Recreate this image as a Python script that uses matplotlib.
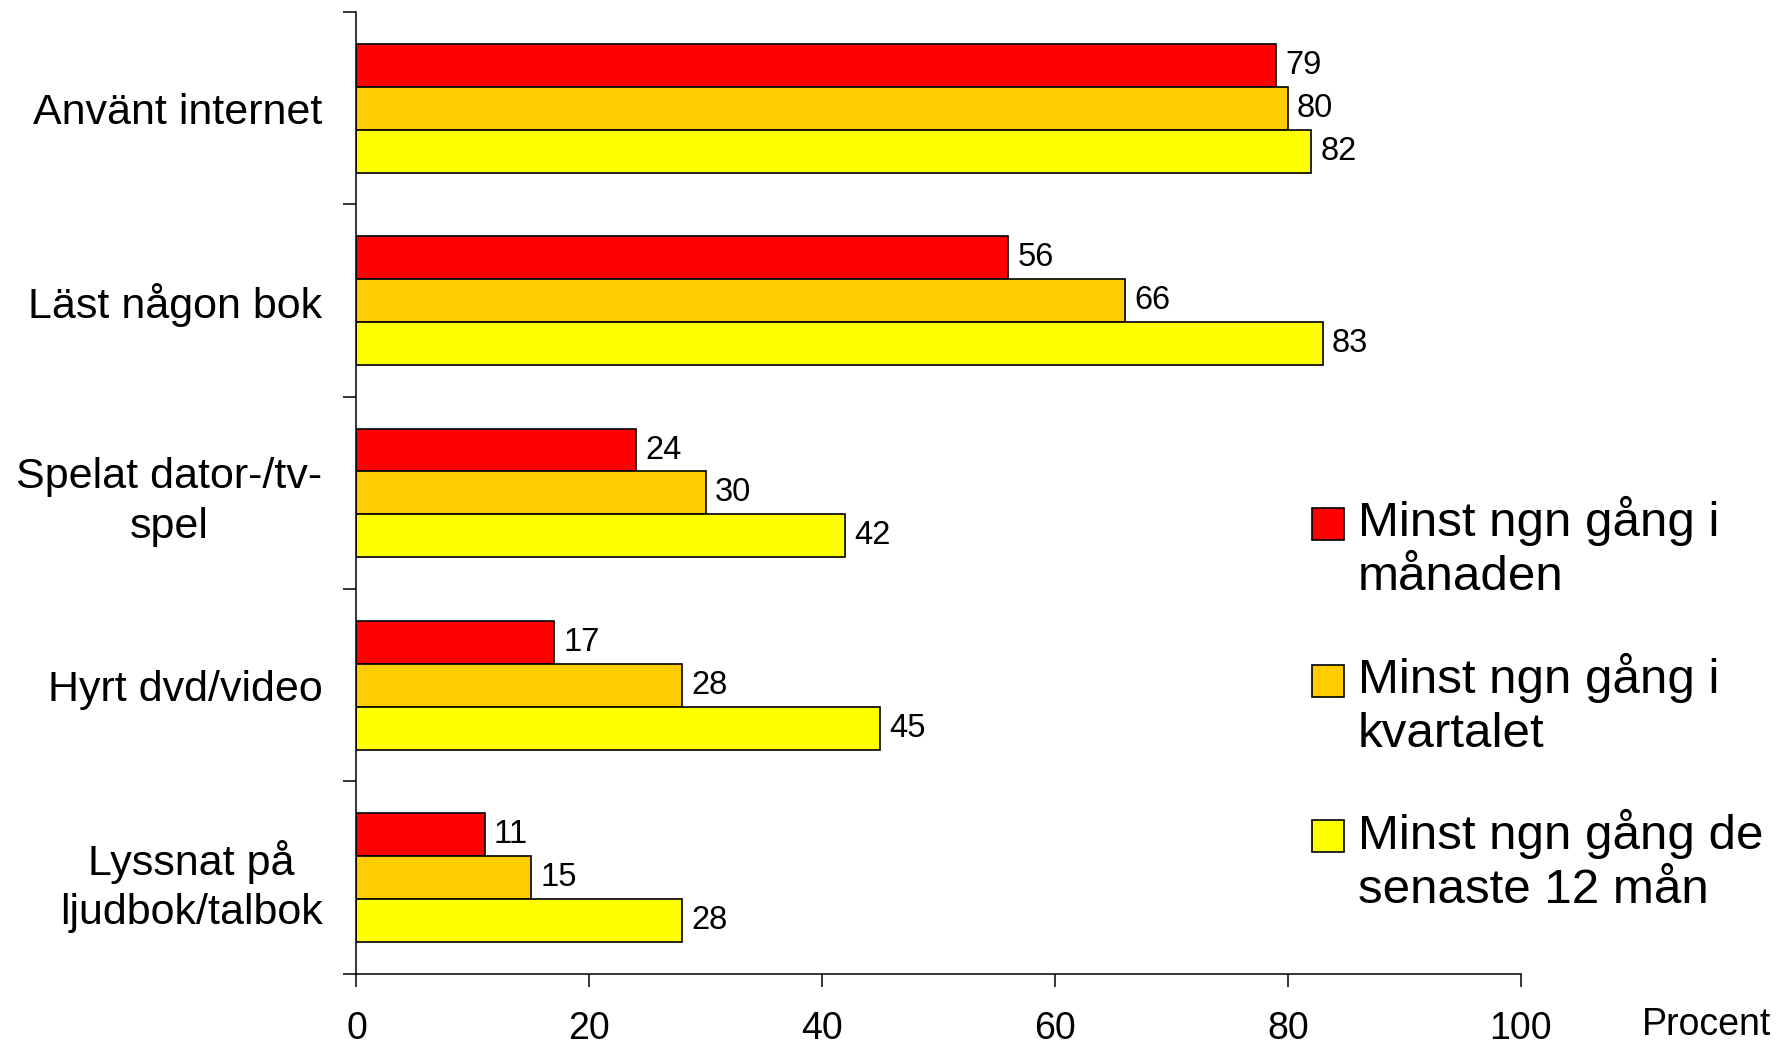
import numpy as np
import matplotlib.pyplot as plt
from matplotlib.patches import Rectangle

plt.rcParams['font.family'] = ['Liberation Sans', 'DejaVu Sans']

# data
categories = ['Använt internet', 'Läst någon bok', 'Spelat dator-/tv-\nspel',
              'Hyrt dvd/video', 'Lyssnat på\nljudbok/talbok']
series_names = ['Minst ngn gång i\nmånaden', 'Minst ngn gång i\nkvartalet',
                'Minst ngn gång de\nsenaste 12 mån']
manad = [79, 56, 24, 17, 11]
kvartal = [80, 66, 30, 28, 15]
ar = [82, 83, 42, 45, 28]
colors = ['#FF0000', '#FFCC00', '#FFFF00']
xticks = [0, 20, 40, 60, 80, 100]

fig = plt.figure(figsize=(17.86, 10.46), dpi=100)
ax = fig.add_axes([0.1996, 0.069, 0.6519, 0.9195])

y = np.arange(len(categories))
h = 0.223
for k, vals in enumerate([manad, kvartal, ar]):
    pos = y + (k - 1) * h
    bars = ax.barh(pos, vals, height=h, color=colors[k], edgecolor='black', linewidth=1.2)
    for b, v in zip(bars, vals):
        ax.annotate(str(v), (v, b.get_y() + h / 2), xytext=(6.5, 0),
                    textcoords='offset points', ha='left', va='center', fontsize=23.5)

ax.set_xlim(0, 100)
ax.set_ylim(len(categories) - 0.5, -0.5)
ax.set_xticks(xticks)
ax.set_xticklabels([str(t) for t in xticks], fontsize=27)
ax.tick_params(axis='x', direction='out', length=9.5, width=1.1, pad=17)

# major ticks at category borders, labels at centers
ax.set_yticks(np.arange(-0.5, len(categories), 1.0))
ax.set_yticklabels([])
ax.set_yticks(y, minor=True)
ax.set_yticklabels(categories, minor=True, fontsize=31, multialignment='center',
                   linespacing=1.3)
ax.tick_params(axis='y', which='major', direction='out', length=9.5, width=1.1)
ax.tick_params(axis='y', which='minor', length=0, pad=24.5)

for s in ['top', 'right']:
    ax.spines[s].set_visible(False)
for s in ['left', 'bottom']:
    ax.spines[s].set_linewidth(1.1)

fig.text(0.9916, 0.02, 'Procent', ha='right', va='center', fontsize=27)

# legend drawn by hand: square aligned with first text line
leg_y = [0.499, 0.349, 0.200]
for name, c, ly in zip(series_names, colors, leg_y):
    fig.patches.append(Rectangle((0.7346, ly - 0.015), 0.0179, 0.0306, transform=fig.transFigure,
                                 facecolor=c, edgecolor='black', linewidth=1.2))
    fig.text(0.7604, ly + 0.027, name, ha='left', va='top', fontsize=35.5, linespacing=1.27)

fig.savefig('out.png')
